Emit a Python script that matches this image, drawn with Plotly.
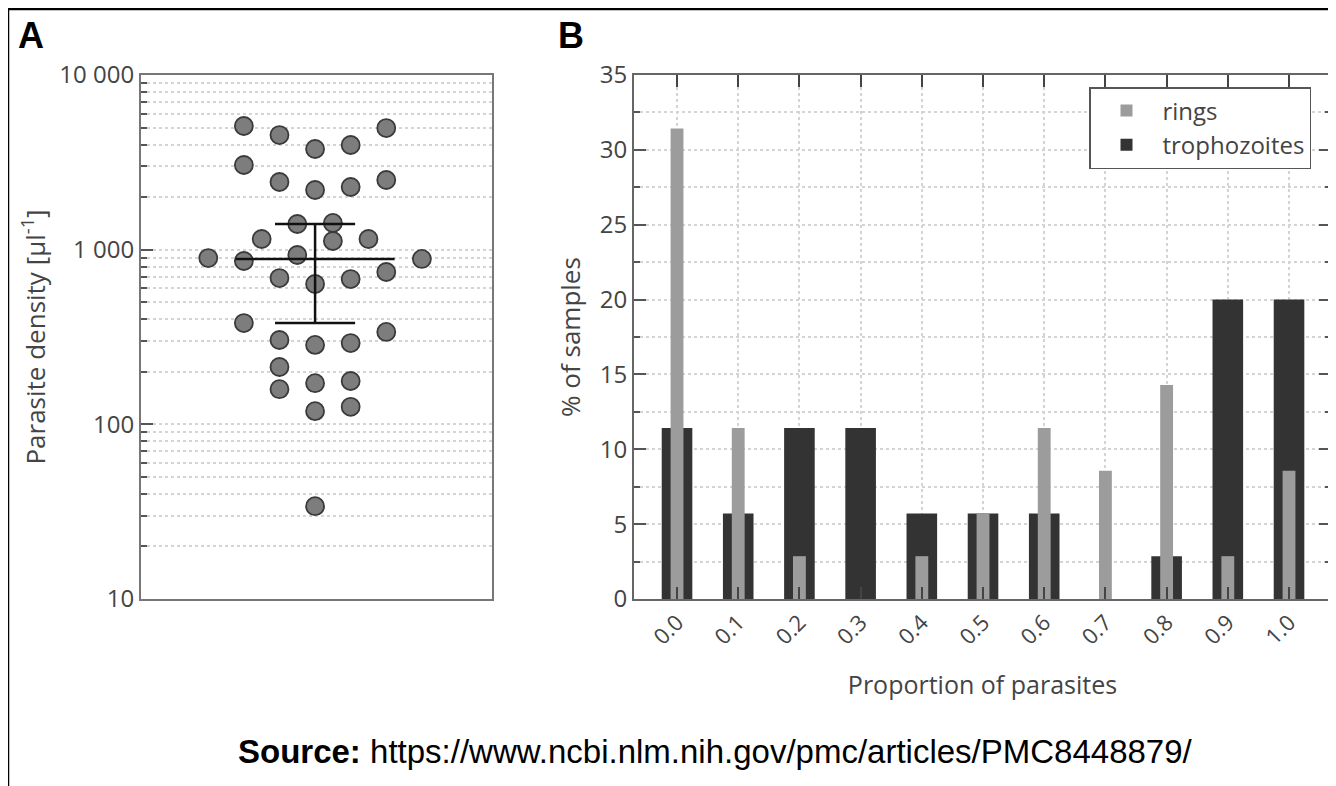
import numpy as np
import plotly.graph_objects as go

# ---------------- Panel A data ----------------
densities = [5105, 4530, 3770, 3975, 4970, 3053, 2440, 2196, 2284, 2505,
             1403, 1422, 1151, 1121, 1151, 895, 861, 932, 885, 745,
             688, 636, 679, 380, 338, 304, 285, 292, 213, 159,
             172, 177, 119, 126, 34]
swarm_slot = [-4, -2, 0, 2, 4, -4, -2, 0, 2, 4,
              -1, 1, -3, 1, 3, -6, -4, -1, 6, 4,
              -2, 0, 2, -4, 4, -2, 0, 2, -2, -2,
              0, 2, 0, 2, 0]
a_ticks = [10, 100, 1000, 10000]
a_ticklabels = ["10", "100", "1 000", "10 000"]

# ---------------- Panel B data ----------------
proportions = [0.0, 0.1, 0.2, 0.3, 0.4, 0.5, 0.6, 0.7, 0.8, 0.9, 1.0]
prop_labels = ["0.0", "0.1", "0.2", "0.3", "0.4", "0.5", "0.6", "0.7", "0.8", "0.9", "1.0"]
rings = [31.43, 11.43, 2.86, 0.0, 2.86, 5.71, 11.43, 8.57, 14.29, 2.86, 8.57]
trophozoites = [11.43, 5.71, 11.43, 11.43, 5.71, 5.71, 5.71, 0.0, 2.86, 20.0, 20.0]

# median and 95% CI of median (rank based)
vals = np.sort(np.array(densities, dtype=float))
n = len(vals)
med = float(np.median(vals))
lo_rank = int(round(n / 2 - 1.96 * np.sqrt(n) / 2))
hi_rank = int(round(1 + n / 2 + 1.96 * np.sqrt(n) / 2))
ci_lo = float(vals[lo_rank - 1])
ci_hi = float(vals[hi_rank - 1])

W, H = 1336, 786
OFF = 8  # page body margin
def px(x): return (x - OFF) / W
def py(y): return 1 - (y - OFF) / H

FONT = "Open Sans"
TXT = "#444444"
GRID = "#d4d4d4"

fig = go.Figure()

# Panel A scatter
fig.add_trace(go.Scatter(
    x=swarm_slot, y=densities, mode="markers", xaxis="x", yaxis="y",
    marker=dict(size=18, color="#7d7d7d", line=dict(color="#3a3a3a", width=1.8)),
    showlegend=False, hoverinfo="y"))

# median + CI lines
line_style = dict(color="#111111", width=2.5)
fig.add_trace(go.Scatter(x=[-4.47, 4.47], y=[med, med], mode="lines", line=line_style,
                         xaxis="x", yaxis="y", showlegend=False, hoverinfo="skip"))
fig.add_trace(go.Scatter(x=[-2.25, 2.25], y=[ci_hi, ci_hi], mode="lines", line=line_style,
                         xaxis="x", yaxis="y", showlegend=False, hoverinfo="skip"))
fig.add_trace(go.Scatter(x=[-2.25, 2.25], y=[ci_lo, ci_lo], mode="lines", line=line_style,
                         xaxis="x", yaxis="y", showlegend=False, hoverinfo="skip"))
fig.add_trace(go.Scatter(x=[0, 0], y=[ci_lo, ci_hi], mode="lines", line=line_style,
                         xaxis="x", yaxis="y", showlegend=False, hoverinfo="skip"))

# Panel B bars
fig.add_trace(go.Bar(x=proportions, y=trophozoites, width=0.05, name="trophozoites",
                     marker=dict(color="#333333", line=dict(width=0)),
                     xaxis="x2", yaxis="y2"))
fig.add_trace(go.Bar(x=proportions, y=rings, width=0.021, name="rings",
                     marker=dict(color="#9c9c9c", line=dict(width=0)),
                     xaxis="x2", yaxis="y2"))

minor_a = [m * 10 ** k for k in range(1, 4) for m in range(2, 10)]

fig.update_layout(
    template="none",
    width=W, height=H,
    margin=dict(l=0, r=0, t=0, b=0, pad=0),
    paper_bgcolor="white", plot_bgcolor="white",
    font=dict(family=FONT, color=TXT, size=22),
    barmode="overlay",
    xaxis=dict(domain=[px(141), px(492)], range=[-9.78, 9.94], anchor="y",
               showticklabels=False, ticks="", showgrid=False, zeroline=False,
               automargin=False,
               showline=True, linecolor="#777777", linewidth=2, mirror=True),
    yaxis=dict(domain=[py(599), py(75)], type="log", range=[1, 4], anchor="x",
               automargin=False,
               tickvals=a_ticks, ticktext=a_ticklabels,
               ticks="inside", ticklen=12, tickwidth=2, tickcolor="#555555",
               tickfont=dict(size=24, color=TXT),
               showgrid=True, gridcolor=GRID, griddash="dot", gridwidth=1.5,
               minor=dict(tickvals=minor_a, ticks="inside", ticklen=6, tickwidth=2,
                          tickcolor="#555555", showgrid=True, gridcolor=GRID,
                          griddash="dot", gridwidth=1.5),
               showline=True, linecolor="#777777", linewidth=2, mirror=True,
               zeroline=False,
               title=dict(text="Parasite density [µl<sup>-1</sup>]",
                          font=dict(size=26, color=TXT), standoff=6)),
    xaxis2=dict(domain=[px(634), px(1331)], range=[-0.0703, 1.0686], anchor="y2",
                automargin=False,
                tickvals=proportions, ticktext=prop_labels, tickangle=-45,
                ticks="inside", ticklen=12, tickwidth=2, tickcolor="#444444",
                tickfont=dict(size=22, color=TXT),
                showgrid=True, gridcolor=GRID, griddash="dot", gridwidth=1.5,
                showline=True, linecolor="#666666", linewidth=2, mirror="ticks",
                zeroline=False,
                title=dict(text="Proportion of parasites", font=dict(size=25, color=TXT),
                           standoff=27)),
    yaxis2=dict(domain=[py(599), py(75)], range=[0, 35], dtick=5, anchor="x2",
                automargin=False,
                ticks="inside", ticklen=12, tickwidth=2, tickcolor="#555555",
                tickfont=dict(size=24, color=TXT),
                showgrid=True, gridcolor=GRID, griddash="dot", gridwidth=1.5,
                minor=dict(dtick=2.5, ticks="inside", ticklen=6, tickwidth=2,
                           tickcolor="#555555", showgrid=True, gridcolor=GRID,
                           griddash="dot", gridwidth=1.5),
                showline=True, linecolor="#666666", linewidth=2, mirror="ticks",
                zeroline=False,
                title=dict(text="% of samples", font=dict(size=26, color=TXT), standoff=12)),
    legend=dict(x=px(1089), y=py(87), xanchor="left", yanchor="top",
                bordercolor="#555555", borderwidth=1.5, bgcolor="white",
                traceorder="reversed", font=dict(size=24, color=TXT),
                itemwidth=62, tracegroupgap=0),
    showlegend=True,
)

fig.add_annotation(text="<b>A</b>", x=px(16), y=py(35), xref="paper", yref="paper",
                   xanchor="left", yanchor="middle", showarrow=False,
                   font=dict(family="Liberation Sans, Arial", size=36, color="black"))
fig.add_annotation(text="<b>B</b>", x=px(556), y=py(35), xref="paper", yref="paper",
                   xanchor="left", yanchor="middle", showarrow=False,
                   font=dict(family="Liberation Sans, Arial", size=36, color="black"))
fig.add_annotation(text="<b>Source:</b> https://www.ncbi.nlm.nih.gov/pmc/articles/PMC8448879/",
                   x=px(715), y=py(751), xref="paper", yref="paper",
                   xanchor="center", yanchor="middle", showarrow=False,
                   font=dict(family="Liberation Sans, Arial", size=33, color="black"))

fig.add_shape(type="rect", xref="paper", yref="paper",
              x0=px(8), x1=px(1333), y0=-0.05, y1=py(9),
              line=dict(color="black", width=2.5), fillcolor="rgba(0,0,0,0)", layer="above")

fig.write_html("out.html")
